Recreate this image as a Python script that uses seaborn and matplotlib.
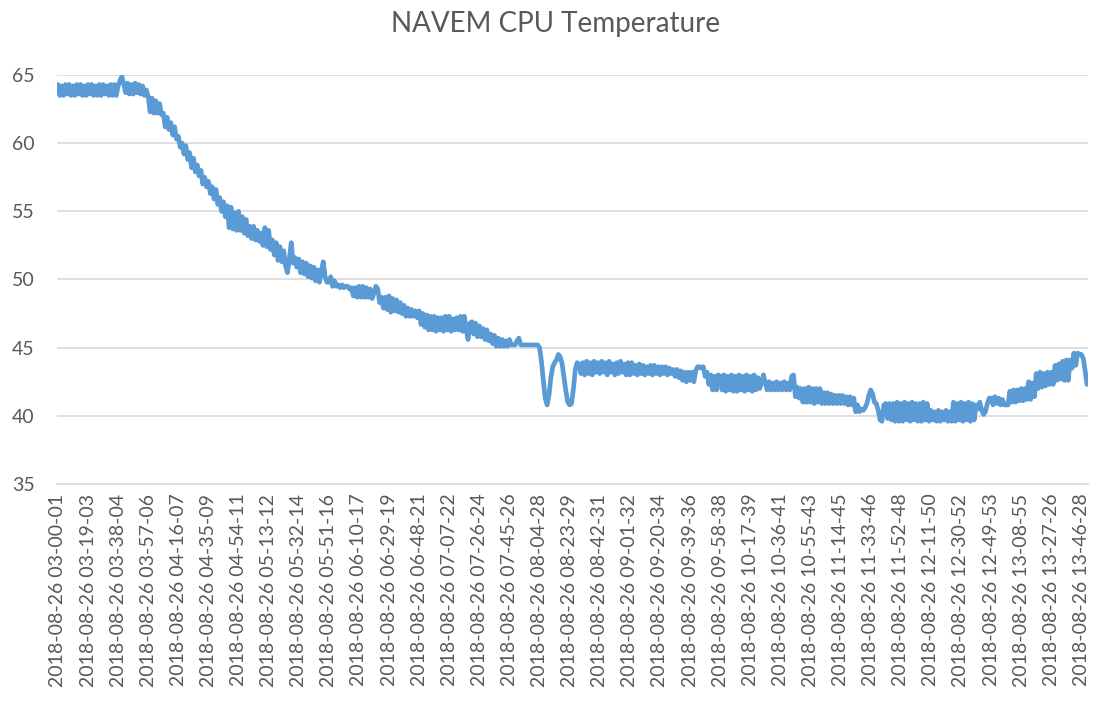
import pandas as pd
import matplotlib
matplotlib.use("Agg")
import matplotlib.pyplot as plt
import seaborn as sns

titulo = "NAVEM CPU Temperature"
fecha = "2018-08-26"
horas = ["03-00-01", "03-19-03", "03-38-04", "03-57-06", "04-16-07", "04-35-09",
         "04-54-11", "05-13-12", "05-32-14", "05-51-16", "06-10-17", "06-29-19",
         "06-48-21", "07-07-22", "07-26-24", "07-45-26", "08-04-28", "08-23-29",
         "08-42-31", "09-01-32", "09-20-34", "09-39-36", "09-58-38", "10-17-39",
         "10-36-41", "10-55-43", "11-14-45", "11-33-46", "11-52-48", "12-11-50",
         "12-30-52", "12-49-53", "13-08-55", "13-27-26", "13-46-28"]
cada = 16  # muestras entre etiquetas

# lecturas de temperatura (una fila por etiqueta)
temp = [
    64.3, 63.5, 64.2, 63.5, 64.3, 63.6, 64.3, 63.5, 64.2, 63.5, 64.3, 63.6, 64.3, 63.5, 64.2, 63.5,
    64.3, 63.6, 64.3, 63.5, 64.2, 63.5, 64.3, 63.5, 64.3, 63.6, 64.2, 63.5, 64.3, 63.5, 64.3, 63.5,
    64.2, 64.6, 64.9, 64.3, 63.7, 64.4, 63.6, 64.3, 63.6, 64.4, 63.7, 64.3, 63.6, 64.2, 63.5, 63.9,
    63.4, 62.3, 63.3, 62.2, 63.1, 62.2, 62.9, 62.1, 62.2, 61.2, 61.9, 61.0, 61.5, 60.6, 61.2, 60.3,
    60.5, 59.7, 60.0, 59.2, 59.8, 58.8, 59.3, 58.2, 58.9, 57.9, 58.4, 57.6, 58.0, 57.0, 57.5, 56.8,
    57.2, 56.3, 56.8, 55.9, 56.6, 55.5, 56.0, 55.0, 55.7, 54.6, 55.4, 53.8, 55.3, 53.7, 54.9, 53.6,
    55.0, 53.6, 54.6, 53.4, 54.4, 53.2, 53.9, 53.0, 53.9, 52.9, 53.6, 52.8, 53.4, 52.5, 53.8, 52.4,
    53.6, 52.2, 52.9, 51.8, 52.7, 51.4, 52.4, 51.3, 52.1, 51.0, 50.5, 51.5, 52.7, 51.2, 51.6, 50.9,
    51.5, 50.5, 51.3, 50.4, 51.2, 50.2, 51.0, 50.1, 50.9, 49.9, 50.7, 49.8, 50.6, 51.3, 50.2, 49.8,
    49.8, 50.2, 49.5, 49.9, 49.5, 49.6, 49.4, 49.6, 49.4, 49.5, 49.5, 49.3, 49.4, 48.8, 49.4, 48.7,
    49.5, 48.7, 49.5, 48.7, 49.4, 48.7, 49.3, 48.6, 49.0, 49.5, 49.3, 48.3, 48.7, 47.9, 48.7, 47.8,
    48.8, 47.6, 48.6, 47.7, 48.5, 47.6, 48.3, 47.5, 48.1, 47.3, 47.9, 47.3, 47.8, 47.3, 47.7, 47.2,
    47.7, 46.7, 47.5, 46.5, 47.4, 46.3, 47.3, 46.3, 47.3, 46.2, 47.2, 46.3, 47.2, 46.2, 47.3, 46.3,
    47.3, 46.2, 47.1, 46.3, 47.2, 46.3, 47.3, 46.2, 47.3, 46.3, 45.6, 46.8, 46.9, 46.0, 46.8, 45.8,
    46.6, 45.8, 46.4, 45.6, 46.3, 45.5, 46.0, 45.3, 45.9, 45.1, 45.7, 45.1, 45.6, 45.1, 45.5, 45.1,
    45.6, 45.2, 45.2, 45.2, 45.5, 45.7, 45.2, 45.2, 45.2, 45.2, 45.2, 45.2, 45.2, 45.2, 45.2, 45.2,
    45.0, 44.0, 42.6, 41.3, 40.8, 41.5, 42.8, 43.6, 43.9, 44.1, 44.5, 44.3, 43.8, 42.8, 41.8, 41.0,
    40.8, 40.9, 42.0, 43.4, 43.9, 43.8, 43.1, 43.9, 43.0, 44.0, 43.1, 43.9, 43.0, 44.0, 43.2, 43.9,
    43.1, 44.0, 43.2, 43.9, 43.0, 44.0, 43.2, 43.8, 43.0, 43.9, 43.1, 44.0, 43.2, 43.8, 43.0, 43.9,
    43.0, 43.9, 43.1, 43.7, 43.0, 43.8, 43.1, 43.7, 43.0, 43.6, 43.1, 43.7, 43.0, 43.7, 43.1, 43.6,
    43.0, 43.6, 43.1, 43.6, 43.0, 43.5, 43.1, 43.4, 42.9, 43.4, 42.8, 43.3, 42.6, 43.2, 42.5, 43.2,
    42.6, 43.2, 42.5, 43.3, 43.6, 43.6, 43.5, 43.6, 42.9, 43.2, 42.3, 43.0, 41.9, 42.9, 41.9, 43.0,
    42.9, 41.9, 43.0, 41.8, 42.9, 41.9, 43.0, 41.8, 42.9, 41.8, 43.0, 41.9, 42.9, 41.8, 43.0, 41.9,
    42.9, 41.8, 43.0, 41.9, 42.8, 42.0, 42.5, 43.0, 42.4, 41.9, 42.5, 41.9, 42.4, 41.9, 42.5, 41.9,
    42.4, 41.9, 42.5, 41.9, 42.4, 41.9, 42.9, 43.0, 41.4, 42.1, 41.3, 42.0, 41.0, 42.0, 41.0, 42.1,
    41.0, 42.0, 40.9, 42.0, 41.0, 42.0, 40.9, 41.7, 40.9, 41.7, 40.9, 41.6, 40.9, 41.5, 40.9, 41.5,
    40.9, 41.5, 40.9, 41.4, 40.8, 41.4, 40.8, 41.3, 40.3, 40.8, 40.3, 40.5, 40.4, 40.6, 40.9, 41.5,
    41.9, 41.6, 41.0, 40.9, 40.4, 39.7, 39.6, 40.8, 40.9, 39.8, 40.9, 39.7, 40.9, 39.6, 41.0, 39.6,
    40.9, 39.6, 41.0, 39.7, 40.9, 39.6, 41.0, 39.7, 40.9, 39.6, 40.9, 39.6, 41.0, 39.7, 40.9, 39.6,
    40.4, 39.7, 40.3, 39.6, 40.4, 39.6, 40.3, 39.7, 40.4, 39.6, 40.3, 39.6, 41.0, 39.6, 40.9, 39.7,
    41.0, 39.6, 40.9, 39.7, 41.0, 39.6, 40.9, 39.7, 40.8, 40.5, 41.0, 40.4, 40.1, 40.3, 40.9, 41.3,
    41.3, 40.8, 41.4, 40.9, 41.3, 40.8, 41.2, 40.8, 40.8, 40.8, 41.8, 41.0, 41.9, 41.0, 41.9, 41.1,
    42.0, 41.1, 42.0, 41.2, 42.5, 41.2, 42.4, 41.4, 43.1, 42.0, 43.2, 42.1, 43.1, 42.2, 43.2, 42.3,
    43.2, 42.3, 43.7, 42.6, 43.8, 42.7, 44.0, 42.6, 44.1, 42.6, 44.1, 43.5, 44.6, 43.7, 44.6, 44.5,
    44.5, 44.2, 43.3, 42.3,
]

datos = pd.DataFrame({"muestra": range(len(temp)), "temp": temp})

sns.set_theme(style="white")
plt.rcParams["font.family"] = ["Lato", "DejaVu Sans"]
gris = "#595959"

fig = plt.figure(figsize=(10.94, 7.08), dpi=100)
ax = fig.add_axes([0.0521, 0.3164, 0.9424, 0.5777])

sns.lineplot(data=datos, x="muestra", y="temp", ax=ax, color="#5B9BD5",
             linewidth=3.4, solid_joinstyle="round", solid_capstyle="round")

ax.set_xlim(-0.5, len(temp) - 0.5)
ax.set_ylim(35, 65)
ax.set_yticks(range(35, 66, 5))
ax.yaxis.grid(True, color="#D9D9D9", linewidth=1.2)
ax.set_axisbelow(True)

pos = list(range(0, len(horas) * cada, cada))
ax.set_xticks(pos)
ax.set_xticklabels([fecha + " " + h for h in horas], rotation=90)

for lado in ["top", "right", "left"]:
    ax.spines[lado].set_visible(False)
ax.spines["bottom"].set_color("#D9D9D9")
ax.spines["bottom"].set_linewidth(1.2)

ax.tick_params(axis="y", length=0, pad=16, labelsize=14, labelcolor=gris)
ax.tick_params(axis="x", length=0, pad=7, labelsize=14, labelcolor=gris)
ax.set_xlabel("")
ax.set_ylabel("")

fig.suptitle(titulo, x=0.508, y=0.985, fontsize=20, color=gris, va="top")

fig.savefig("out.png", dpi=100)
